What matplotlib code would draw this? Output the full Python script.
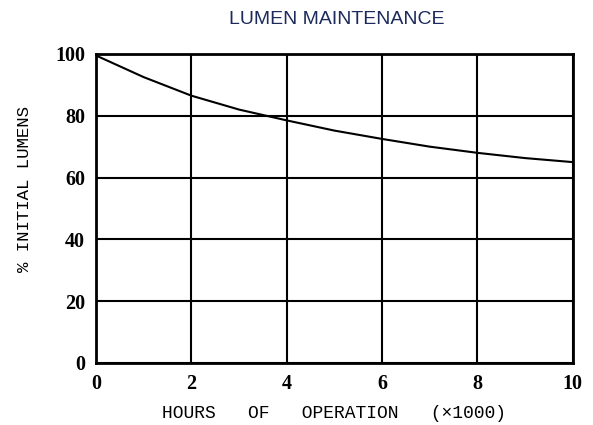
import numpy as np
import matplotlib
matplotlib.use("Agg")
import matplotlib.pyplot as plt

# values
hours = [0, 1, 2, 3, 4, 5, 6, 7, 8, 9, 10]
lumens = [99.5, 92.5, 86.5, 82.0, 78.5, 75.2, 72.5, 70.0, 68.0, 66.3, 65.0]
xticks = [0, 2, 4, 6, 8, 10]
yticks = [0, 20, 40, 60, 80, 100]

fig = plt.figure(figsize=(5.93, 4.25), dpi=100)
ax = fig.add_axes([0.162, 0.146, 0.804, 0.727])

ax.plot(hours, lumens, color="black", lw=1.5)

ax.set_xlim(0, 10)
ax.set_ylim(0, 100)
ax.set_xticks(xticks)
ax.set_yticks(yticks)
ax.grid(True, color="black", lw=1.5)
for s in ax.spines.values():
    s.set_linewidth(2)
ax.tick_params(length=0, pad=8)
for lab in ax.get_xticklabels() + ax.get_yticklabels():
    lab.set_fontfamily("Liberation Serif")
    lab.set_fontweight("bold")
    lab.set_fontsize(14.5)

ax.set_xlabel("HOURS   OF   OPERATION   (×1000)", family="Liberation Mono",
              fontsize=13, labelpad=8)
ax.set_ylabel("% INITIAL LUMENS", family="Liberation Mono", fontsize=12.5)
ax.yaxis.set_label_coords(-0.135, 0.563)
fig.text(0.568, 0.955, "LUMEN MAINTENANCE", ha="center", va="center",
         family="Liberation Sans", fontsize=14, color="#1c2a5c")

fig.savefig("out.png", dpi=100)
